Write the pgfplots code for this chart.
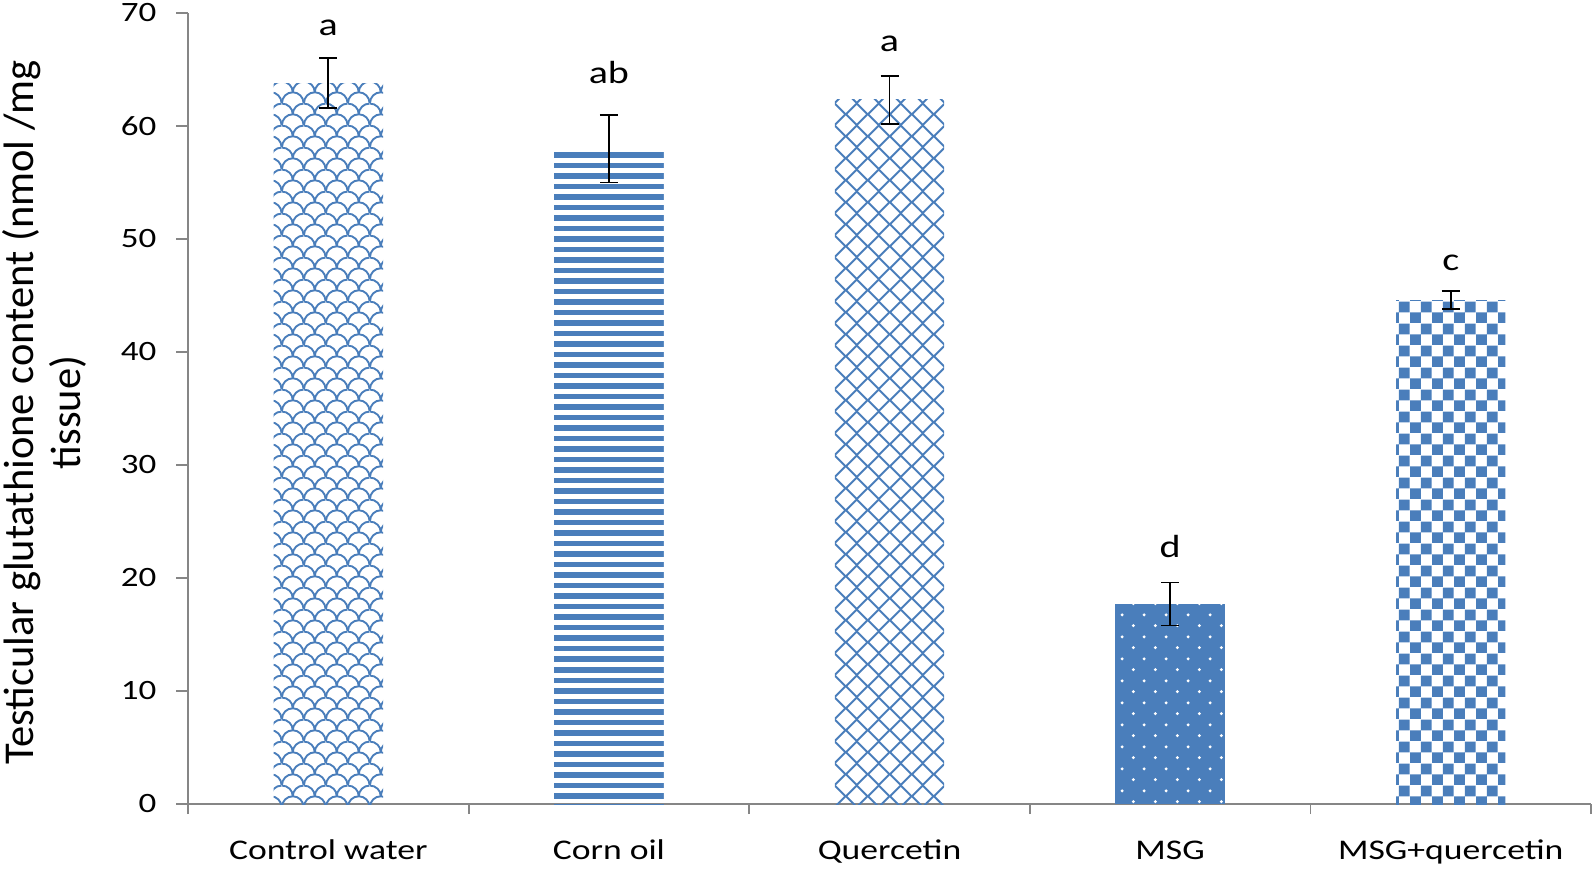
\documentclass[border=0pt]{standalone}
\usepackage{fontspec}
\setmainfont{Carlito}[FakeStretch=1.25]
\newfontfamily\plainfont{Carlito}
\usepackage{graphicx}
\usepackage{pgfplots}
\pgfplotsset{compat=1.18}
\usetikzlibrary{patterns}
\definecolor{barblue}{RGB}{74,126,187}
\definecolor{axgray}{RGB}{134,134,134}

\pgfdeclarepatternformonly{hstripes}{\pgfpoint{-2pt}{0pt}}{\pgfpoint{12.5pt}{10.5pt}}{\pgfpoint{10.5pt}{10.5pt}}{%
  \pgfpathrectangle{\pgfpoint{-2pt}{0pt}}{\pgfpoint{14.5pt}{5.5pt}}\pgfusepath{fill}}
\pgfdeclarepatternformonly{checker}{\pgfpointorigin}{\pgfpoint{21.7pt}{21.7pt}}{\pgfpoint{21.7pt}{21.7pt}}{%
  \pgfpathrectangle{\pgfpointorigin}{\pgfpoint{10.85pt}{10.85pt}}%
  \pgfpathrectangle{\pgfpoint{10.85pt}{10.85pt}}{\pgfpoint{10.85pt}{10.85pt}}\pgfusepath{fill}}
\pgfdeclarepatternformonly{msgdots}{\pgfpointorigin}{\pgfpoint{21.7pt}{21.7pt}}{\pgfpoint{21.7pt}{21.7pt}}{%
  \pgfpathcircle{\pgfpoint{5.4pt}{5.4pt}}{1.7pt}%
  \pgfpathcircle{\pgfpoint{16.25pt}{16.25pt}}{1.7pt}\pgfusepath{fill}}
\pgfdeclarepatternformonly{diamonds}{\pgfpointorigin}{\pgfpoint{21.7pt}{21.7pt}}{\pgfpoint{21.7pt}{21.7pt}}{%
  \pgfsetlinewidth{2pt}%
  \pgfpathmoveto{\pgfpoint{10.85pt}{0pt}}%
  \pgfpathlineto{\pgfpoint{21.7pt}{10.85pt}}%
  \pgfpathlineto{\pgfpoint{10.85pt}{21.7pt}}%
  \pgfpathlineto{\pgfpoint{0pt}{10.85pt}}%
  \pgfpathclose\pgfusepath{stroke}}
\pgfdeclarepatternformonly{scales}{\pgfpointorigin}{\pgfpoint{21.7pt}{21.7pt}}{\pgfpoint{21.7pt}{21.7pt}}{%
  \pgfsetlinewidth{1.9pt}%
  \pgfpathmoveto{\pgfpoint{21.7pt}{0pt}}\pgfpatharc{0}{180}{10.85pt}%
  \pgfpathmoveto{\pgfpoint{10.85pt}{10.85pt}}\pgfpatharc{0}{90}{10.85pt}%
  \pgfpathmoveto{\pgfpoint{21.7pt}{21.7pt}}\pgfpatharc{90}{180}{10.85pt}%
  \pgfusepath{stroke}}

\begin{document}
\begin{tikzpicture}
\begin{axis}[
  name=ax,
  width=1403pt, height=791pt, scale only axis,
  xmin=-0.5, xmax=4.5, ymin=0, ymax=70,
  ytick={0,10,...,70},
  xtick={0,1,2,3,4},
  xticklabels={Control water, Corn oil, Quercetin, MSG, MSG+quercetin},
  minor xtick={-0.5,0.5,1.5,2.5,3.5,4.5},
  axis x line*=bottom, axis y line*=left,
  axis line style={axgray, line width=1.8pt, -},
  tick align=outside,
  major tick length=12pt, minor tick length=10pt,
  major x tick style={draw=none},
  minor x tick style={axgray, line width=1.8pt},
  major y tick style={axgray, line width=1.8pt},
  /pgf/number format/assume math mode=true,
  xticklabel style={font=\fontsize{28.5}{34}\selectfont, anchor=base, yshift=-43pt},
  yticklabel style={font=\fontsize{28}{34}\selectfont, anchor=east, xshift=-16pt},
  ylabel={\plainfont\fontsize{42.5}{47}\selectfont\begin{tabular}{c}Testicular glutathione content (nmol /mg\\tissue)\end{tabular}},
  every axis y label/.style={at={(axis description cs:0,0.5)}, xshift=-140pt, yshift=-4pt, rotate=90, anchor=center},
  ybar, bar width=0.39, bar shift=0pt,
  error bars/y dir=both, error bars/y explicit,
  error bars/error mark=-,
  error bars/error bar style={draw=black, line width=1.8pt},
  error bars/error mark options={rotate=90, draw=black, line width=1.8pt, mark size=9pt},
  clip=false,
]
\addplot[draw=none, pattern=scales, pattern color=barblue] coordinates {(0,63.8) +- (0,2.2)};
\addplot[draw=none, pattern=hstripes, pattern color=barblue] coordinates {(1,58.0) +- (0,3.0)};
\addplot[draw=none, pattern=diamonds, pattern color=barblue] coordinates {(2,62.3) +- (0,2.1)};
\addplot[draw=none, fill=barblue, postaction={pattern=msgdots, pattern color=white}] coordinates {(3,17.7) +- (0,1.9)};
\addplot[draw=none, pattern=checker, pattern color=barblue] coordinates {(4,44.6) +- (0,0.8)};
\begin{scope}[every node/.style={font=\fontsize{32}{38}\selectfont, anchor=base, inner sep=0pt}]
\node at (axis cs:0,68.0) {a};
\node at (axis cs:1,63.8) {ab};
\node at (axis cs:2,66.6) {a};
\node at (axis cs:3,21.8) {d};
\node at (axis cs:4,47.2) {c};
\end{scope}
\end{axis}
\pgfresetboundingbox
\path ([shift={(-188pt,-68pt)}]ax.south west) rectangle ([shift={(3pt,13pt)}]ax.north east);
\end{tikzpicture}
\end{document}
